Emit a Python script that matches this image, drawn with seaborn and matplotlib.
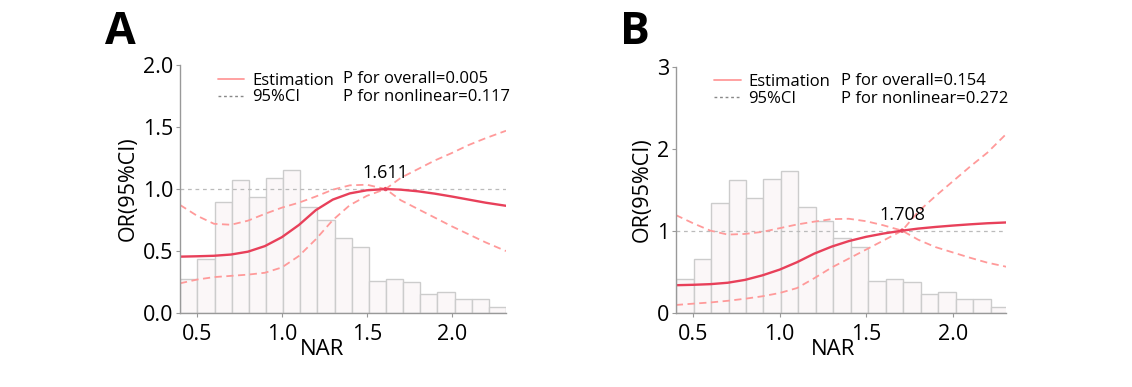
import numpy as np
import pandas as pd
import seaborn as sns
import matplotlib
matplotlib.use("Agg")
import matplotlib.pyplot as plt
from matplotlib.lines import Line2D

# ---- data ----
# histogram of NAR (same shape in both panels, relative counts)
nar_counts = [100, 160, 330, 397, 345, 402, 426, 316, 276, 223, 198,
              96, 101, 91, 56, 62, 42, 42, 18]
nar_min, nar_max = 0.402, 2.32

# panel A: restricted cubic spline, reference at 1.611
x_a = [0.40, 0.50, 0.60, 0.70, 0.80, 0.90, 1.00, 1.10, 1.20, 1.30, 1.40,
       1.50, 1.611, 1.70, 1.80, 1.90, 2.00, 2.10, 2.20, 2.32]
est_a = [0.455, 0.458, 0.462, 0.472, 0.495, 0.54, 0.612, 0.71, 0.83, 0.915,
         0.965, 0.99, 1.0, 0.995, 0.982, 0.963, 0.94, 0.915, 0.89, 0.865]
ci1_a = [0.872, 0.785, 0.72, 0.712, 0.745, 0.80, 0.85, 0.89, 0.94, 0.995,
         1.03, 1.035, 1.0, 0.91, 0.84, 0.77, 0.70, 0.635, 0.57, 0.50]
ci2_a = [0.24, 0.27, 0.29, 0.30, 0.31, 0.325, 0.368, 0.46, 0.595, 0.75,
         0.87, 0.945, 1.0, 1.09, 1.16, 1.23, 1.29, 1.355, 1.41, 1.47]

# panel B: reference at 1.708
x_b = [0.40, 0.50, 0.60, 0.70, 0.80, 0.90, 1.00, 1.10, 1.20, 1.30, 1.40,
       1.50, 1.60, 1.708, 1.80, 1.90, 2.00, 2.10, 2.20, 2.31]
est_b = [0.335, 0.34, 0.348, 0.365, 0.40, 0.455, 0.525, 0.615, 0.72, 0.805,
         0.873, 0.925, 0.965, 1.0, 1.025, 1.045, 1.062, 1.077, 1.09, 1.10]
ci1_b = [1.19, 1.09, 1.0, 0.952, 0.96, 0.985, 1.03, 1.075, 1.11, 1.14,
         1.145, 1.115, 1.065, 1.0, 0.89, 0.80, 0.735, 0.67, 0.61, 0.56]
ci2_b = [0.094, 0.11, 0.125, 0.145, 0.17, 0.20, 0.24, 0.30, 0.42, 0.55,
         0.66, 0.77, 0.88, 1.0, 1.23, 1.42, 1.60, 1.78, 1.95, 2.18]

panels = [
    dict(letter="A", x=x_a, est=est_a, ci1=ci1_a, ci2=ci2_a, ref=1.611,
         ymax=2.0, yticks=[0, 0.5, 1.0, 1.5, 2.0],
         ylabels=["0.0", "0.5", "1.0", "1.5", "2.0"],
         p_overall="0.005", p_nonlin="0.117", xmax=2.32, nar_x=0.437),
    dict(letter="B", x=x_b, est=est_b, ci1=ci1_b, ci2=ci2_b, ref=1.708,
         ymax=3.0, yticks=[0, 1, 2, 3], ylabels=["0", "1", "2", "3"],
         p_overall="0.154", p_nonlin="0.272", xmax=2.31, nar_x=0.475),
]

sns.set_theme(style="ticks")
plt.rcParams["font.family"] = ["Open Sans", "DejaVu Sans"]
plt.rcParams["text.color"] = "black"
plt.rcParams["axes.labelcolor"] = "black"
plt.rcParams["xtick.labelcolor"] = "black"
plt.rcParams["ytick.labelcolor"] = "black"

red = "#e8405a"
pink = "#ff9a9a"
grey = "#999999"

fig = plt.figure(figsize=(11.32, 3.87), dpi=100)
rects = [[0.159, 0.191, 0.288, 0.641], [0.597, 0.192, 0.292, 0.636]]
letter_x = [0.093, 0.548]

nbins = len(nar_counts)
edges = np.linspace(nar_min, nar_max, nbins + 1)
hist_df = pd.DataFrame({"nar": (edges[:-1] + edges[1:]) / 2,
                        "n": nar_counts})

for p, rect, lx in zip(panels, rects, letter_x):
    ax = fig.add_axes(rect)
    ax2 = ax.twinx()
    sns.histplot(data=hist_df, x="nar", weights="n", bins=nbins,
                 binrange=(nar_min, nar_max), ax=ax2,
                 color="#fbf7f8", edgecolor="#cccccc", alpha=1)
    ax2.set_ylim(0, 738)
    ax2.axis("off")
    ax.set_zorder(ax2.get_zorder() + 1)
    ax.patch.set_visible(False)

    ax.axhline(1.0, color="#bbbbbb", lw=0.9, ls=(0, (3, 3)))
    sns.lineplot(x=p["x"], y=p["ci1"], ax=ax, color=pink, lw=1.3,
                 linestyle=(0, (4, 2.5)))
    sns.lineplot(x=p["x"], y=p["ci2"], ax=ax, color=pink, lw=1.3,
                 linestyle=(0, (4, 2.5)))
    sns.lineplot(x=p["x"], y=p["est"], ax=ax, color=red, lw=1.7)
    sns.scatterplot(x=[p["ref"]], y=[1.0], ax=ax, color=red, s=10,
                    edgecolor="none")
    ax.annotate(f"{p['ref']:.3f}", (p["ref"], 1.0), xytext=(0, 5),
                textcoords="offset points", ha="center", va="bottom",
                fontsize=13)

    ax.set_xlim(0.40, p["xmax"])
    ax.set_ylim(0, p["ymax"])
    ax.set_xticks([0.5, 1.0, 1.5, 2.0])
    ax.set_xticklabels(["0.5", "1.0", "1.5", "2.0"])
    ax.set_yticks(p["yticks"])
    ax.set_yticklabels(p["ylabels"])
    ax.tick_params(labelsize=15.5, length=3, width=0.8, color=grey)
    ax.tick_params(axis="x", pad=5)
    ax.tick_params(axis="y", pad=2)
    for s in ["top", "right"]:
        ax.spines[s].set_visible(False)
    for s in ["left", "bottom"]:
        ax.spines[s].set_color(grey)
        ax.spines[s].set_linewidth(1.0)
    ax.set_xlabel("NAR", fontsize=16)
    ax.xaxis.set_label_coords(p["nar_x"], -0.105)
    ax.set_ylabel("OR(95%CI)", fontsize=15.5, labelpad=3)

    handles = [Line2D([], [], color=pink, lw=1.3),
               Line2D([], [], color="#888888", lw=1.0, ls=(0, (2, 2)))]
    ax.legend(handles, ["Estimation", "95%CI"], loc="upper left",
              bbox_to_anchor=(0.07, 1.03), frameon=False, fontsize=12,
              handlelength=1.6, handletextpad=0.45, labelspacing=0.05)
    ax.text(0.50, 0.975, f"P for overall={p['p_overall']}\n"
            f"P for nonlinear={p['p_nonlin']}", transform=ax.transAxes,
            ha="left", va="top", fontsize=12, linespacing=1.15)

    fig.text(lx, 0.975, p["letter"], fontsize=32, fontweight="bold",
             ha="left", va="top")

fig.savefig("out.png", dpi=100)
